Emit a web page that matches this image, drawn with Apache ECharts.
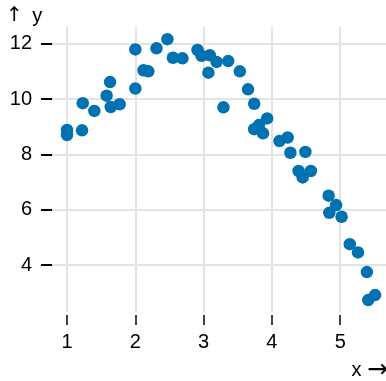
<!DOCTYPE html>
<html>
<head>
<meta charset="utf-8">
<style>
  html, body { margin: 0; padding: 0; background: #fff; }
  #chart { width: 386px; height: 381px; }
</style>
<script src="https://cdn.jsdelivr.net/npm/echarts@6/dist/echarts.min.js"></script>
</head>
<body>
<div id="chart"></div>
<script>
const xValues = [1.00, 1.00, 1.22, 1.23, 1.40, 1.58, 1.63, 1.64, 1.77, 2.00, 2.00, 2.12, 2.19, 2.31, 2.47, 2.55, 2.69, 2.91, 2.97, 3.09, 3.07, 3.19, 3.36, 3.29, 3.53, 3.65, 3.74, 3.93, 3.74, 3.81, 3.87, 4.11, 4.23, 4.27, 4.49, 4.39, 4.45, 4.57, 4.83, 4.94, 4.84, 5.02, 5.14, 5.26, 5.39, 5.51, 5.41];
const yValues = [8.88, 8.70, 8.87, 9.85, 9.57, 10.12, 10.61, 9.71, 9.81, 10.38, 11.79, 11.04, 11.00, 11.83, 12.16, 11.49, 11.47, 11.77, 11.56, 11.58, 10.95, 11.34, 11.37, 9.70, 11.00, 10.35, 9.83, 9.30, 8.91, 9.06, 8.76, 8.48, 8.61, 8.06, 8.09, 7.40, 7.17, 7.40, 6.51, 6.17, 5.89, 5.75, 4.76, 4.46, 3.75, 2.92, 2.74];
const xTicks = [1, 2, 3, 4, 5];
const yTicks = [4, 6, 8, 10, 12];

const FONT = 'Liberation Sans, Arial, sans-serif';
const chart = echarts.init(document.getElementById('chart'), null, { renderer: 'canvas' });
chart.setOption({
  animation: false,
  backgroundColor: '#fff',
  grid: { left: 52, right: 0, top: 27, bottom: 69 },
  xAxis: {
    type: 'value', min: 0.78, max: 5.67, offset: 3,
    axisLine: { show: false },
    axisTick: { show: true, length: 10, customValues: xTicks, lineStyle: { color: '#000', width: 1.5 } },
    axisLabel: { customValues: xTicks, margin: 17, color: '#000', fontSize: 20, fontFamily: FONT },
    splitLine: { show: true, lineStyle: { color: '#e3e3e3', width: 2 } }
  },
  yAxis: {
    type: 'value', min: 2.31, max: 12.6,
    axisLine: { show: false },
    axisTick: { show: true, length: 11, customValues: yTicks, lineStyle: { color: '#000', width: 2 } },
    axisLabel: { customValues: yTicks, margin: 20, color: '#000', fontSize: 20, fontFamily: FONT },
    splitLine: { show: true, lineStyle: { color: '#e3e3e3', width: 2 } }
  },
  graphic: [
    { type: 'text', left: 6, top: 6, style: {
      text: '{a|↑} {b|y}', fontSize: 20, fontFamily: FONT, fill: '#000',
      rich: {
        a: { fontSize: 20, fontFamily: 'DejaVu Sans', fill: '#000', padding: [0, 4, 0, 0] },
        b: { fontSize: 20, fontFamily: FONT, fill: '#000' }
      }
    } },
    { type: 'text', right: -2, top: 358, style: {
      text: '{b|x} {a|→}', fontSize: 20, fontFamily: FONT, fill: '#000',
      rich: {
        a: { fontSize: 25, fontFamily: 'DejaVu Sans', fill: '#000' },
        b: { fontSize: 20, fontFamily: FONT, fill: '#000' }
      }
    } }
  ],
  series: [{
    type: 'scatter',
    symbolSize: 12.5,
    itemStyle: { color: '#0072B2', opacity: 1 },
    data: xValues.map((x, i) => [x, yValues[i]])
  }]
});
</script>
</body>
</html>
